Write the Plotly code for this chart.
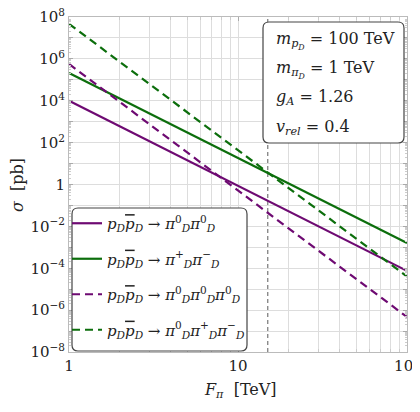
import plotly.graph_objects as go

# Data: endpoints of straight log-log lines
F_vals = [1, 100]
sigma_pp_00 = [1.0e4, 7.5e-5]          # p p̄ -> π0 π0 (solid purple)
sigma_pp_pm = [2.1e5, 1.6e-3]          # p p̄ -> π+ π- (solid green)
sigma_pp_000 = [5.7e5, 4.7e-7]         # p p̄ -> π0 π0 π0 (dashed purple)
sigma_pp_0pm = [4.7e7, 4.0e-5]         # p p̄ -> π0 π+ π- (dashed green)
F_marker = 15.0                        # vertical dashed line
sigma_range = [1e-8, 1e8]

x_ticks = [1, 10, 100]
x_ticktext = ["1", "10", "10<sup>2</sup>"]
y_exps = list(range(-8, 9))
y_ticktext_map = {8: "10<sup>8</sup>", 6: "10<sup>6</sup>", 4: "10<sup>4</sup>", 2: "10<sup>2</sup>",
                  0: "1", -2: "10<sup>−2</sup>", -4: "10<sup>−4</sup>", -6: "10<sup>−6</sup>", -8: "10<sup>−8</sup>"}

purple = "#6e0a72"
green = "#0c6e0c"
FONT = "DejaVu Serif"

lab_pre = "<i>p</i><sub><i>D</i></sub><span style='text-decoration:overline'><i>p</i></span><sub><i>D</i></sub> → "
names = [
    lab_pre + "<i>π</i><sup>0</sup><sub><i>D</i></sub><i>π</i><sup>0</sup><sub><i>D</i></sub>",
    lab_pre + "<i>π</i><sup>+</sup><sub><i>D</i></sub><i>π</i><sup>−</sup><sub><i>D</i></sub>",
    lab_pre + "<i>π</i><sup>0</sup><sub><i>D</i></sub><i>π</i><sup>0</sup><sub><i>D</i></sub><i>π</i><sup>0</sup><sub><i>D</i></sub>",
    lab_pre + "<i>π</i><sup>0</sup><sub><i>D</i></sub><i>π</i><sup>+</sup><sub><i>D</i></sub><i>π</i><sup>−</sup><sub><i>D</i></sub>",
]
series = [sigma_pp_00, sigma_pp_pm, sigma_pp_000, sigma_pp_0pm]
colors = [purple, green, purple, green]
dashes = ["solid", "solid", "8px,5px", "8px,5px"]

fig = go.Figure()
fig.add_trace(go.Scatter(x=[F_marker, F_marker], y=sigma_range, mode="lines",
                         line=dict(color="#777777", width=1.2, dash="4px,3px"),
                         showlegend=False, hoverinfo="skip"))
for i, (s, c, d, n) in enumerate(zip(series, colors, dashes, names)):
    fig.add_trace(go.Scatter(x=F_vals, y=s, mode="lines", name=n,
                             line=dict(color=c, width=2.2, dash=d),
                             legendgroup=str(i)))

minor_x = [m * 10 ** e for e in range(0, 2) for m in range(2, 10)]
minor_y = [m * 10.0 ** e for e in range(-8, 8) for m in range(2, 10)]

TICKSIZE = 15
fig.update_xaxes(type="log", range=[0, 2], tickvals=x_ticks, ticktext=x_ticktext,
                 ticks="inside", ticklen=4, tickcolor="#aaaaaa", showgrid=True,
                 gridcolor="#dddddd", gridwidth=1, showline=True, linecolor="#bbbbbb",
                 mirror="ticks", zeroline=False, automargin=False, ticklabeloverflow="allow",
                 minor=dict(tickvals=minor_x, showgrid=True, gridcolor="#dddddd",
                            ticks="inside", ticklen=3, tickcolor="#cccccc"),
                 tickfont=dict(size=TICKSIZE, family=FONT, color="#222"))
fig.update_yaxes(type="log", range=[-8, 8], tickvals=[10.0 ** e for e in y_exps],
                 ticktext=[y_ticktext_map.get(e, "") for e in y_exps],
                 ticks="inside", ticklen=4, tickcolor="#aaaaaa", showgrid=True,
                 gridcolor="#dddddd", gridwidth=1, showline=True, linecolor="#bbbbbb",
                 mirror="ticks", zeroline=False, automargin=False, ticklabeloverflow="allow",
                 minor=dict(tickvals=minor_y, showgrid=False,
                            ticks="inside", ticklen=2, tickcolor="#cccccc"),
                 tickfont=dict(size=TICKSIZE, family=FONT, color="#222"))

# page body has an 8px margin, so the figure is drawn 8px in from the window edge
OFF = 8
W, H = 420 - OFF, 412 - OFF
ml, mt = 69 - OFF, 17 - OFF
mr, mb = W - (407 - OFF), H - (352 - OFF)
pw, ph = W - ml - mr, H - mt - mb

def px2paper(x, y):
    # x, y are window pixel coordinates
    return (x - OFF - ml) / pw, 1 - (y - OFF - mt) / ph

def rounded_box(x0, y0, x1, y1, r=6):
    X0, Y0 = px2paper(x0, y0)
    X1, Y1 = px2paper(x1, y1)
    rx, ry = r / pw, r / ph
    p = (f"M {X0+rx},{Y0} L {X1-rx},{Y0} Q {X1},{Y0} {X1},{Y0-ry} "
         f"L {X1},{Y1+ry} Q {X1},{Y1} {X1-rx},{Y1} L {X0+rx},{Y1} Q {X0},{Y1} {X0},{Y1+ry} "
         f"L {X0},{Y0-ry} Q {X0},{Y0} {X0+rx},{Y0} Z")
    return dict(type="path", xref="paper", yref="paper", path=p,
                line=dict(color="#444444", width=1.2), fillcolor="white", layer="above")

fig.add_shape(rounded_box(72, 208, 247, 351))
fig.add_shape(rounded_box(263, 22, 404, 143))

lx, ly = px2paper(67, 207)
fig.update_layout(
    width=W, height=H,
    margin=dict(l=ml, r=mr, t=mt, b=mb, autoexpand=False),
    paper_bgcolor="white", plot_bgcolor="white",
    font=dict(family=FONT, size=16, color="#222"),
    showlegend=True,
    legend=dict(x=lx, y=ly, xanchor="left", yanchor="top", bgcolor="rgba(0,0,0,0)",
                borderwidth=0, font=dict(size=15, family=FONT, color="#222"),
                tracegroupgap=13, itemwidth=30),
)

# axis titles
tx, ty = px2paper(240, 390)
fig.add_annotation(x=tx, y=ty, xref="paper", yref="paper", showarrow=False,
                   text="<i>F</i><sub><i>π</i></sub>  [TeV]", xanchor="center", yanchor="middle",
                   font=dict(size=16, family=FONT, color="#222"))
tx, ty = px2paper(17, 185)
fig.add_annotation(x=tx, y=ty, xref="paper", yref="paper", showarrow=False, textangle=-90,
                   text="<i>σ</i>  [pb]", xanchor="center", yanchor="middle",
                   font=dict(size=16, family=FONT, color="#222"))

info = ["<i>m</i><sub><i>p</i><sub><i>D</i></sub></sub> = 100 TeV",
        "<i>m</i><sub><i>π</i><sub><i>D</i></sub></sub> = 1 TeV",
        "<i>g</i><sub><i>A</i></sub> = 1.26",
        "<i>v</i><sub><i>rel</i></sub> = 0.4"]
info_y = [40, 69, 98, 127]
for t, yy in zip(info, info_y):
    ax_, ay_ = px2paper(274, yy)
    fig.add_annotation(x=ax_, y=ay_, xref="paper", yref="paper", text=t, showarrow=False,
                       xanchor="left", yanchor="middle", font=dict(size=16, family=FONT, color="#222"))

fig.write_html("out.html")
